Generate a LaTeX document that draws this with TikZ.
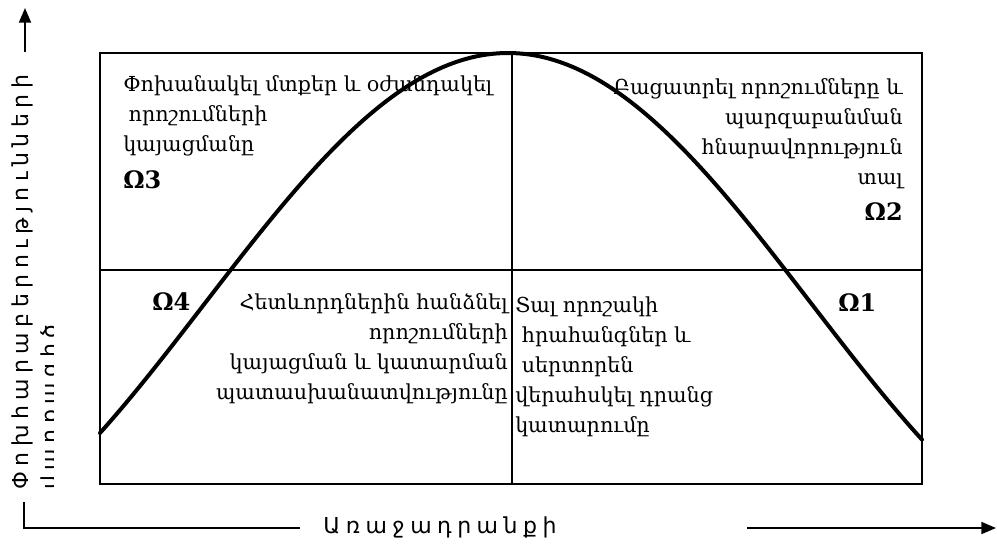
\documentclass[tikz,border=0pt]{standalone}
\usepackage{fontspec}
\setmainfont{DejaVu Serif}
\newfontfamily\omgfont{DejaVu Serif}
\newfontfamily\axfont[LetterSpace=25]{DejaVu Sans}
\usetikzlibrary{arrows.meta}
\tikzset{
  bx/.style={line width=1.1pt},
  crv/.style={line width=3pt, line cap=round},
  axs/.style={-{Triangle[length=11pt,width=9pt]}, line width=1.4pt},
  txt/.style={inner sep=0pt, font=\fontsize{15.5}{22.5}\selectfont},
  omg/.style={inner sep=0pt, font=\omgfont\fontsize{18}{20}\selectfont\bfseries},
  axlbl/.style={inner sep=0pt, font=\axfont\fontsize{16.5}{20}\selectfont},
}

\begin{document}
\begin{tikzpicture}[x=0.75pt,y=-0.75pt]
  \useasboundingbox (0,0) rectangle (997,544);
  % frame and quadrants
  \draw[bx] (100,53) rectangle (922,484);
  \draw[bx] (512,53) -- (512,484);
  \draw[bx] (100,270) -- (922,270);
  \draw[crv] plot[domain=100:922, samples=120, smooth]
    (\x, {53+251*(1-cos(deg(0.00518*(\x-508))))});

  % quadrant texts (base = last line)
  \node[txt, anchor=base west, align=left] (q3) at (123,151)
    {Փոխանակել մտքեր և օժանդակել\\\hspace{4pt}որոշումների\\կայացմանը};
  \node[omg, anchor=base west] (o3) at (123,188) {Ω3};
  \node[txt, anchor=base east, align=right] (q2) at (903,184)
    {Բացատրել որոշումները և\\պարզաբանման\\հնարավորություն\\տալ};
  \node[omg, anchor=base east] (o2) at (903,220) {Ω2};
  \node[omg, anchor=base west] (o4) at (152,310) {Ω4};
  \node[txt, anchor=base east, align=right] (q4) at (508,399)
    {Հետևորդներին հանձնել\\որոշումների\\կայացման և կատարման\\պատասխանատվությունը};
  \node[txt, anchor=base west, align=left] (q1) at (515,432)
    {Տալ որոշակի\\\hspace{5pt}հրահանգներ և\\\hspace{5pt}սերտորեն\\վերահսկել դրանց\\կատարումը};
  \node[omg, anchor=base west] (o1) at (838,311) {Ω1};

  % axes
  \coordinate (ytop) at (25,8);
  \coordinate (ybot) at (25,52);
  \coordinate (orig) at (24,528);
  \coordinate (ystub) at (24,502);
  \coordinate (xcut) at (300,528);
  \coordinate (xgo) at (747,528);
  \coordinate (xend) at (996,528);
  \draw[axs] (ybot) -- (ytop);
  \draw[line width=1.4pt] (ystub) -- (orig) -- (xcut);
  \draw[axs] (xgo) -- (xend);
  \node[axlbl, anchor=base] (xlbl) at (440,533) {Առաջադրանքի};
  \node[axlbl, rotate=90, anchor=base west] (ylbl) at (28,490) {Փոխհարաբերությունների};
  \begin{scope}
    \clip (30,300) rectangle (53,500);
    \node[axlbl, rotate=90, anchor=base west] (ylbl2) at (57,490) {վարքագիծ};
  \end{scope}
\end{tikzpicture}
\end{document}
